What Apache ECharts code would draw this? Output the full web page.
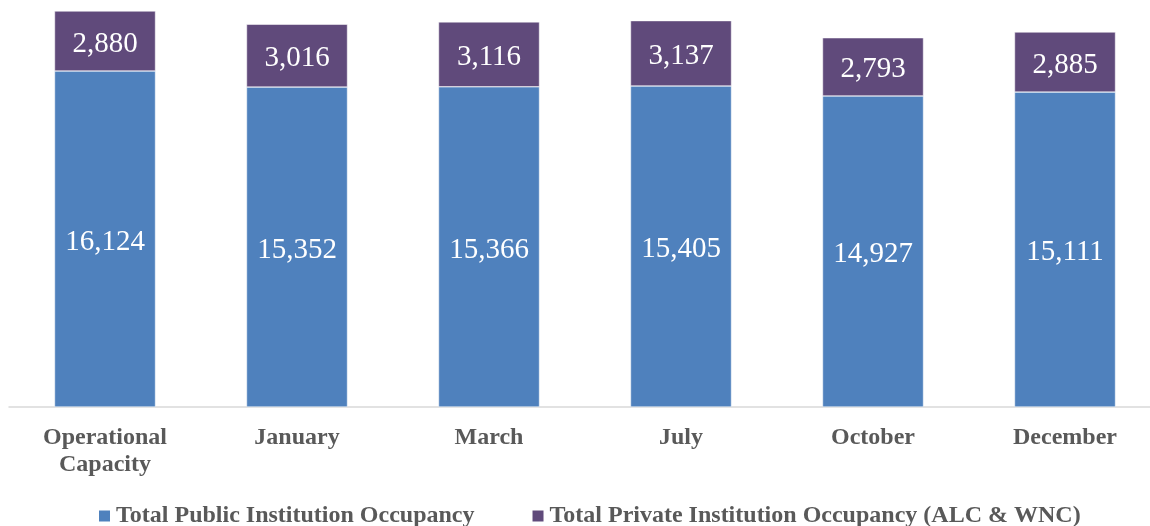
<!DOCTYPE html>
<html>
<head>
<meta charset="utf-8">
<script src="https://cdn.jsdelivr.net/npm/echarts@6/dist/echarts.min.js"></script>
<style>
  html, body { margin: 0; padding: 0; background: #fff; }
  #main { width: 1150px; height: 526px; }
</style>
</head>
<body>
<div id="main"></div>
<script>
// chart data
var categories = ["Operational\nCapacity", "January", "March", "July", "October", "December"];
var publicOccupancy = [16124, 15352, 15366, 15405, 14927, 15111];
var privateOccupancy = [2880, 3016, 3116, 3137, 2793, 2885];
var seriesNames = ["Total Public Institution Occupancy", "Total Private Institution Occupancy (ALC & WNC)"];

var myChart = echarts.init(document.getElementById("main"));

function fmt(p) {
  return p.value.toLocaleString("en-US");
}

var labelStyle = {
  show: true,
  position: "inside",
  offset: [0, 3],
  color: "#ffffff",
  fontFamily: "Liberation Serif",
  fontSize: 29,
  formatter: fmt
};

var option = {
  animation: false,
  textStyle: { fontFamily: "Liberation Serif" },
  grid: {
    left: 9,
    width: 1152,
    top: 11,
    bottom: 119,
    outerBoundsMode: "none",
    containLabel: false
  },
  legend: {
    top: 504,
    left: 97,
    padding: 0,
    itemGap: 56,
    itemWidth: 13,
    itemHeight: 13,
    icon: "rect",
    textStyle: {
      color: "#595959",
      fontWeight: "bold",
      fontSize: 24,
      fontFamily: "Liberation Serif"
    },
    data: seriesNames
  },
  xAxis: {
    type: "category",
    data: categories,
    axisLine: { lineStyle: { color: "#d9d9d9", width: 1.5 } },
    axisTick: { show: false },
    axisLabel: {
      color: "#595959",
      fontWeight: "bold",
      fontSize: 24,
      fontFamily: "Liberation Serif",
      lineHeight: 27,
      margin: 17
    }
  },
  yAxis: {
    type: "value",
    min: 0,
    max: 19004,
    show: false,
    splitLine: { show: false }
  },
  series: [
    {
      name: seriesNames[0],
      type: "bar",
      stack: "total",
      barWidth: 101,
      data: publicOccupancy,
      itemStyle: { color: "#4f81bd", borderColor: "#ffffff", borderWidth: 0.5 },
      label: labelStyle
    },
    {
      name: seriesNames[1],
      type: "bar",
      stack: "total",
      barWidth: 101,
      data: privateOccupancy,
      itemStyle: { color: "#604a7b", borderColor: "#ffffff", borderWidth: 0.5 },
      label: labelStyle
    }
  ]
};
myChart.setOption(option);
</script>
</body>
</html>
